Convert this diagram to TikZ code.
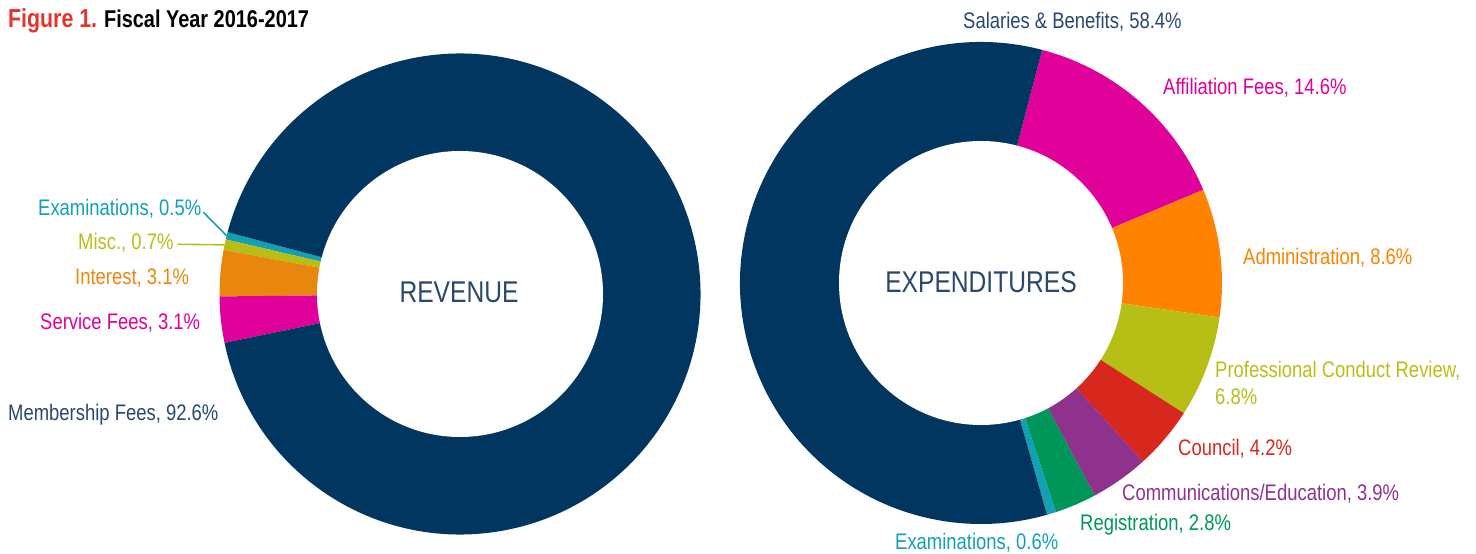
\documentclass[tikz,border=0pt]{standalone}
\usepackage{fontspec}
\setmainfont[FakeStretch=0.82]{Liberation Sans}
\definecolor{navy}{RGB}{0,54,96}
\definecolor{textnavy}{RGB}{40,72,110}
\definecolor{magenta}{RGB}{224,0,154}
\definecolor{orangeA}{RGB}{255,130,0}
\definecolor{orangeI}{RGB}{232,134,14}
\definecolor{olive}{RGB}{183,191,22}
\definecolor{cred}{RGB}{216,40,30}
\definecolor{cpurple}{RGB}{142,50,142}
\definecolor{cgreen}{RGB}{0,150,90}
\definecolor{cteal}{RGB}{20,160,180}
\definecolor{figred}{RGB}{230,50,45}
\tikzset{
  lbl/.style={anchor=base west, inner sep=0pt, font=\fontsize{22.5}{27}\selectfont},
  ctr/.style={anchor=base, inner sep=0pt, text=textnavy, font=\fontsize{30}{34}\selectfont},
  leader/.style={line width=1.6pt}
}
\newcommand\pieseg[6]{% center, radius, start, end, colour, name
  \fill[#5] (#1) -- ++(#3:#2) arc[start angle=#3, end angle=#4, radius=#2] -- cycle;}
\begin{document}
\begin{tikzpicture}[x=1pt,y=1pt]
\useasboundingbox (0,0) rectangle (1476,554);
% ---------- title
\node[anchor=base west, inner sep=0pt] (title) at (8,526)
  {\bfseries{\color{figred}\fontsize{26}{30}\selectfont Figure 1.}\hspace{4pt} \fontsize{24.3}{28}\selectfont Fiscal Year 2016-2017};
% ---------- revenue donut
\coordinate (cL) at (460,260);
\pieseg{cL}{240.5}{165.1}{166.9}{cteal}{}
\pieseg{cL}{240.5}{166.9}{169.42}{olive}{}
\pieseg{cL}{240.5}{169.42}{180.58}{orangeI}{}
\pieseg{cL}{240.5}{180.58}{191.74}{magenta}{}
\pieseg{cL}{240.5}{191.74}{525.1}{navy}{}
\fill[white] (cL) circle[radius=143];
\node[ctr] (rev) at (459,251) {REVENUE};
\path (cL) ++(166:240.5) coordinate (exLpt);
\path (cL) ++(168.2:240.5) coordinate (miLpt);
\node[lbl, text=cteal] (exL) at (38,338) {Examinations, 0.5\%};
\node[lbl, text=olive] (miL) at (78,304) {Misc., 0.7\%};
\node[lbl, text=orangeI] (inL) at (75,269) {Interest, 3.1\%};
\node[lbl, text=magenta] (seL) at (40,224) {Service Fees, 3.1\%};
\node[lbl, text=textnavy] (meL) at (8,133) {Membership Fees, 92.6\%};
\draw[leader, cteal] ([xshift=2pt,yshift=-3pt]exL.east) -- (exLpt);
\draw[leader, olive] ([xshift=4pt,yshift=-1pt]miL.east) -- (miLpt);
% ---------- expenditures donut
\coordinate (cR) at (981,271);
\pieseg{cR}{241}{22.74}{75.3}{magenta}{}
\pieseg{cR}{241}{-8.22}{22.74}{orangeA}{}
\pieseg{cR}{241}{-32.7}{-8.22}{olive}{}
\pieseg{cR}{241}{-47.82}{-32.7}{cred}{}
\pieseg{cR}{241}{-61.86}{-47.82}{cpurple}{}
\pieseg{cR}{241}{-71.94}{-61.86}{cgreen}{}
\pieseg{cR}{241}{-74.1}{-71.94}{cteal}{}
\pieseg{cR}{241}{75.3}{285.9}{navy}{}
\fill[white] (cR) circle[radius=142];
\node[ctr] (exp) at (981,261) {EXPENDITURES};
\node[lbl, text=textnavy] (saR) at (963,525) {Salaries \& Benefits, 58.4\%};
\node[lbl, text=magenta] (afR) at (1163,459) {Affiliation Fees, 14.6\%};
\node[lbl, text=orangeA] (adR) at (1243,289) {Administration, 8.6\%};
\node[lbl, text=olive, align=left] (pcR) at (1215,149) {Professional Conduct Review,\\6.8\%};
\node[lbl, text=cred] (coR) at (1178,98) {Council, 4.2\%};
\node[lbl, text=cpurple] (cmR) at (1122,53) {Communications/Education, 3.9\%};
\node[lbl, text=cgreen] (reR) at (1080,23) {Registration, 2.8\%};
\node[lbl, text=cteal] (exR) at (895,4) {Examinations, 0.6\%};
\end{tikzpicture}
\end{document}
